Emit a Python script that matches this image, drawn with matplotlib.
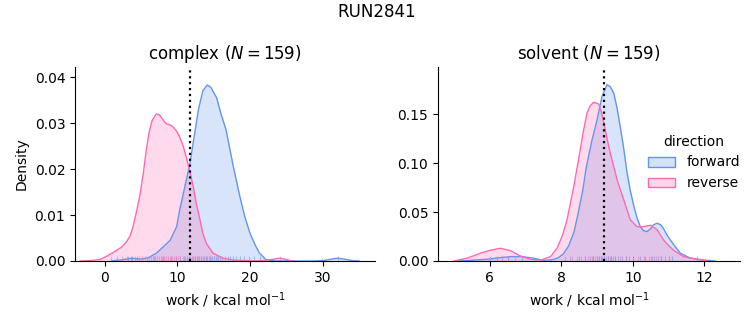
import matplotlib
matplotlib.use("Agg")
import matplotlib.pyplot as plt
from matplotlib.patches import Patch
from matplotlib.colors import to_rgba

blue = "#6495ED"
pink = "#FF69B4"

# density curves (x, density)
cx_fwd = [1.0, 2.5, 3.7, 5.0, 6.0, 7.1, 8.0, 9.0, 9.9, 10.3, 11.0, 11.7, 12.3, 12.9, 13.5, 14.1, 14.6, 15.4,
          16.0, 16.7, 17.7, 18.6, 19.3, 20.0, 20.7, 21.3, 22.2, 23.5, 26.0, 29.0, 30.5, 31.5, 32.1, 33.0, 34.0, 35.0]
cy_fwd = [0.0, 0.0003, 0.0006, 0.0004, 0.0007, 0.0017, 0.003, 0.0045, 0.0075, 0.011, 0.016, 0.021, 0.027, 0.033,
          0.037, 0.0383, 0.0378, 0.0355, 0.032, 0.0285, 0.0205, 0.014, 0.0095, 0.006, 0.0035, 0.0017, 0.0003, 0.0,
          0.0, 0.0, 0.0002, 0.0005, 0.0006, 0.0004, 0.0001, 0.0]
cx_rev = [-3.4, -2.0, -0.7, 0.2, 1.0, 1.6, 2.3, 3.0, 3.5, 3.9, 4.4, 4.8, 5.3, 5.7, 6.1, 6.5, 7.1, 7.5, 7.8, 8.2,
          8.5, 9.0, 9.4, 9.9, 10.3, 10.8, 11.2, 11.7, 12.2, 12.6, 13.1, 13.5, 14.0, 14.9, 16.3, 17.7, 19.0, 21.0,
          22.5, 23.5, 24.1, 24.8, 25.5, 26.0]
cy_rev = [0.0, 0.0001, 0.0003, 0.001, 0.0017, 0.0023, 0.003, 0.0042, 0.0055, 0.0075, 0.011, 0.014, 0.019, 0.024,
          0.028, 0.0305, 0.032, 0.0318, 0.0312, 0.0303, 0.0298, 0.0296, 0.0292, 0.0282, 0.027, 0.025, 0.0227,
          0.0195, 0.016, 0.0125, 0.009, 0.006, 0.0038, 0.0017, 0.0006, 0.0002, 0.0001, 0.0, 0.0002, 0.0005,
          0.0006, 0.0004, 0.0001, 0.0]

sx_fwd = [5.1, 5.5, 6.0, 6.3, 6.6, 6.9, 7.2, 7.5, 7.7, 7.9, 8.05, 8.2, 8.35, 8.45, 8.6, 8.7, 8.85, 9.0, 9.14,
          9.28, 9.37, 9.47, 9.56, 9.65, 9.75, 9.84, 9.93, 10.03, 10.12, 10.21, 10.3, 10.4, 10.5, 10.58, 10.68,
          10.78, 10.86, 10.95, 11.05, 11.2, 11.33, 11.6, 12.0, 12.3]
sy_fwd = [0.0, 0.0008, 0.002, 0.0035, 0.0045, 0.0045, 0.003, 0.0008, 0.001, 0.003, 0.007, 0.015, 0.029, 0.045,
          0.072, 0.096, 0.122, 0.144, 0.168, 0.18, 0.178, 0.171, 0.156, 0.137, 0.114, 0.09, 0.072, 0.056, 0.044,
          0.035, 0.031, 0.030, 0.033, 0.037, 0.0385, 0.037, 0.033, 0.027, 0.0215, 0.014, 0.008, 0.003, 0.001, 0.0]
sx_rev = [5.0, 5.37, 5.74, 6.02, 6.3, 6.58, 6.86, 7.14, 7.42, 7.7, 7.88, 8.02, 8.16, 8.35, 8.53, 8.62, 8.72,
          8.8, 8.9, 9.0, 9.05, 9.12, 9.19, 9.28, 9.37, 9.47, 9.56, 9.75, 9.93, 10.12, 10.3, 10.5, 10.68, 10.86,
          11.0, 11.14, 11.42, 11.8, 12.1]
sy_rev = [0.0, 0.003, 0.008, 0.011, 0.013, 0.0105, 0.005, 0.0017, 0.001, 0.0045, 0.013, 0.025, 0.042, 0.076,
          0.1135, 0.133, 0.151, 0.158, 0.162, 0.161, 0.16, 0.152, 0.141, 0.125, 0.11, 0.096, 0.083, 0.062, 0.042,
          0.035, 0.035, 0.0365, 0.032, 0.0215, 0.016, 0.011, 0.0045, 0.0017, 0.0]

# rug positions (approximate)
rug_c_fwd = [3.2, 3.8, 4.5, 6.8, 8.0, 9.1, 9.8, 10.4, 10.9, 11.3, 11.8, 12.1, 12.4, 12.7, 13.0, 13.2, 13.5, 13.7,
             13.9, 14.1, 14.3, 14.5, 14.8, 15.0, 15.3, 15.6, 15.9, 16.2, 16.5, 16.9, 17.3, 17.7, 18.1, 18.6, 19.2,
             19.8, 20.5, 21.3, 32.1]
rug_c_rev = [0.8, 1.7, 2.4, 3.0, 3.6, 4.2, 4.7, 5.1, 5.5, 5.8, 6.1, 6.4, 6.7, 6.9, 7.2, 7.4, 7.7, 7.9, 8.2, 8.4,
             8.7, 9.0, 9.3, 9.5, 9.8, 10.1, 10.4, 10.7, 11.0, 11.3, 11.6, 12.0, 12.4, 12.8, 13.3, 13.9, 14.6, 15.5,
             24.1]
rug_s_fwd = [6.2, 6.5, 6.9, 8.25, 8.5, 8.65, 8.8, 8.9, 9.0, 9.05, 9.1, 9.15, 9.2, 9.25, 9.3, 9.35, 9.4, 9.45,
             9.5, 9.6, 9.7, 9.8, 9.9, 10.0, 10.2, 10.35, 10.5, 10.6, 10.7, 10.8, 10.9, 11.0, 11.1, 11.8]
rug_s_rev = [6.0, 6.2, 6.35, 6.5, 6.7, 8.1, 8.3, 8.45, 8.55, 8.65, 8.75, 8.85, 8.9, 8.95, 9.0, 9.05, 9.1, 9.2,
             9.3, 9.4, 9.5, 9.65, 9.8, 10.0, 10.15, 10.3, 10.45, 10.55, 10.65, 10.8, 11.0]

titles = ["complex ($N = 159$)", "solvent ($N = 159$)"]
vline = [11.8, 9.2]
xlims = [(-4.1, 37.2), (4.55, 13.0)]
ylims = [(0, 0.0422), (0, 0.198)]
yticks = [[0, 0.01, 0.02, 0.03, 0.04], [0, 0.05, 0.10, 0.15]]
xticks = [[0, 10, 20, 30], [6, 8, 10, 12]]

fig = plt.figure(figsize=(7.53, 3.25), dpi=100)
ax1 = fig.add_axes([75 / 753, 64 / 325, 300 / 753, 194 / 325])
ax2 = fig.add_axes([438 / 753, 64 / 325, 302 / 753, 194 / 325])
axes = [ax1, ax2]

curves = [((cx_fwd, cy_fwd, rug_c_fwd), (cx_rev, cy_rev, rug_c_rev)),
          ((sx_fwd, sy_fwd, rug_s_fwd), (sx_rev, sy_rev, rug_s_rev))]

for i, ax in enumerate(axes):
    for (x, y, rug), col in zip(curves[i], [blue, pink]):
        ax.fill_between(x, y, color=col, alpha=0.25, lw=0)
        ax.plot(x, y, color=col, lw=1)
        ax.vlines(rug, 0, 0.025, transform=ax.get_xaxis_transform(), color=col, lw=0.8, alpha=0.5)
    ax.axvline(vline[i], color="black", ls=":", lw=1.6)
    ax.set_xlim(*xlims[i])
    ax.set_ylim(*ylims[i])
    ax.set_xticks(xticks[i])
    ax.set_yticks(yticks[i])
    ax.set_title(titles[i], fontsize=12)
    ax.set_xlabel("work / kcal mol$^{-1}$")
    ax.spines["top"].set_visible(False)
    ax.spines["right"].set_visible(False)

ax1.set_ylabel("Density")
ax2.yaxis.set_major_formatter(matplotlib.ticker.FormatStrFormatter("%.2f"))

handles = [Patch(facecolor=to_rgba(blue, 0.28), edgecolor=blue, lw=1),
           Patch(facecolor=to_rgba(pink, 0.28), edgecolor=pink, lw=1)]
fig.legend(handles, ["forward", "reverse"], title="direction", frameon=False,
           loc="center left", bbox_to_anchor=(635 / 753, 0.5))

fig.suptitle("RUN2841", fontsize=12, y=0.99)
plt.savefig("out.png", dpi=100)
